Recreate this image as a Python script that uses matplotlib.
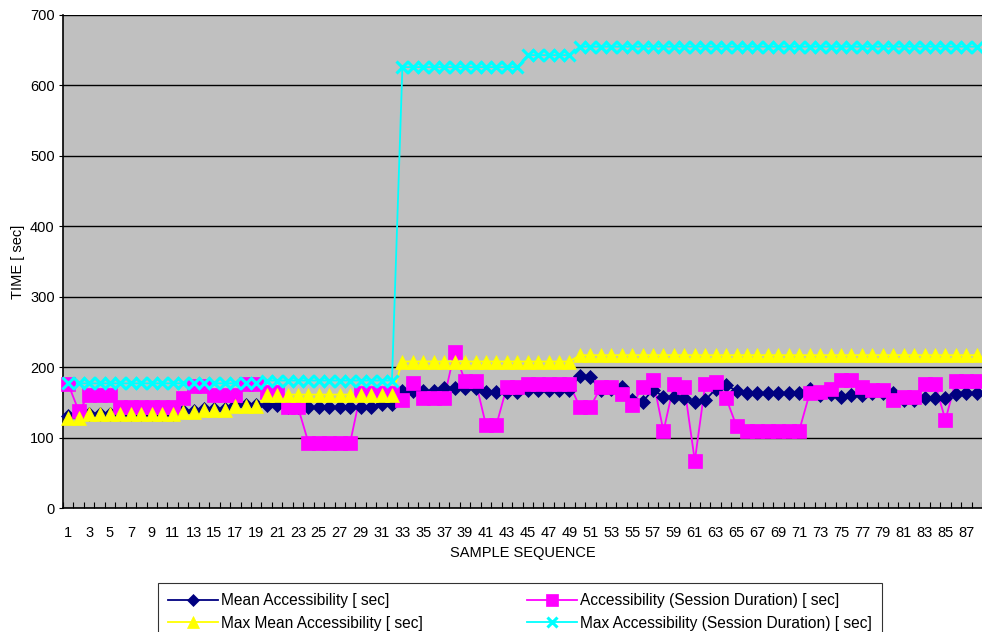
import matplotlib
matplotlib.use("Agg")
import matplotlib.pyplot as plt
from matplotlib.lines import Line2D
from matplotlib.ticker import FixedLocator, NullFormatter

plt.rcParams["font.family"] = ["Liberation Sans", "DejaVu Sans"]
plt.rcParams["font.size"] = 10.5

# Sample sequence 1..88
samples = list(range(1, 89))

mean_access = [
    130, 131, 134, 134, 134, 134, 134, 134, 134, 134,
    134, 138, 138, 141, 141, 141, 146, 146, 146, 146,
    146, 143, 143, 143, 143, 143, 143, 143, 143, 143,
    148, 148, 166, 166, 166, 166, 171, 171, 171, 171,
    165, 165, 165, 165, 168, 168, 168, 168, 168, 188,
    186, 167, 169, 172, 153, 151, 168, 158, 158, 156,
    151, 153, 169, 175, 166, 163, 163, 163, 163, 163,
    163, 169, 160, 162, 158, 160, 160, 163, 163, 163,
    153, 153, 156, 156, 156, 162, 163, 163,
]

session_access = [
    176, 138, 160, 160, 160, 143, 143, 143, 143, 143,
    143, 156, 173, 173, 160, 160, 160, 176, 176, 165,
    165, 143, 143, 93, 93, 93, 93, 93, 163, 163,
    163, 163, 153, 178, 156, 156, 156, 222, 180, 180,
    118, 118, 172, 172, 176, 176, 176, 176, 176, 143,
    143, 172, 172, 162, 146, 172, 182, 109, 176, 172,
    67, 176, 179, 156, 116, 110, 110, 110, 110, 110,
    110, 163, 165, 169, 182, 182, 172, 168, 168, 153,
    158, 158, 176, 176, 125, 181, 181, 181,
]

max_mean_access = [
    128, 128, 133, 133, 133, 133, 133, 133, 133, 133,
    133, 136, 136, 139, 139, 139, 145, 145, 145, 161,
    161, 161, 161, 161, 161, 161, 161, 161, 161, 161,
    161, 161, 208, 208, 208, 208, 208, 208, 208, 208,
    208, 208, 208, 208, 208, 208, 208, 208, 208, 217,
    217, 217, 217, 217, 217, 217, 217, 217, 217, 217,
    217, 217, 217, 217, 217, 217, 217, 217, 217, 217,
    217, 217, 217, 217, 217, 217, 217, 217, 217, 217,
    217, 217, 217, 217, 217, 217, 217, 217,
]

max_session_access = [
    177, 177, 177, 177, 177, 177, 177, 177, 177, 177,
    177, 177, 177, 177, 177, 177, 177, 177, 177, 181,
    181, 181, 181, 181, 181, 181, 181, 181, 181, 181,
    181, 181, 626, 626, 626, 626, 626, 626, 626, 626,
    626, 626, 626, 626, 643, 643, 643, 643, 643, 655,
    655, 655, 655, 655, 655, 655, 655, 655, 655, 655,
    655, 655, 655, 655, 655, 655, 655, 655, 655, 655,
    655, 655, 655, 655, 655, 655, 655, 655, 655, 655,
    655, 655, 655, 655, 655, 655, 655, 655,
]

x_tick_values = list(range(1, 89, 2))
x_tick_labels = [str(v) for v in x_tick_values]
y_ticks = [0, 100, 200, 300, 400, 500, 600, 700]

series = [
    ("Mean Accessibility [ sec]", mean_access,
     dict(color="#000080", marker="D", ms=7, mew=0.5)),
    ("Accessibility (Session Duration) [ sec]", session_access,
     dict(color="#FF00FF", marker="s", ms=10, mew=0.5)),
    ("Max Mean Accessibility [ sec]", max_mean_access,
     dict(color="#FFFF00", marker="^", ms=10, mew=0.5)),
    ("Max Accessibility (Session Duration) [ sec]", max_session_access,
     dict(color="#00FFFF", marker="x", ms=8.5, mew=2.2)),
]

fig = plt.figure(figsize=(9.82, 6.32), dpi=100)
fig.patch.set_facecolor("white")
ax = fig.add_axes([63 / 982, 1 - 508 / 632, 919 / 982, 493 / 632])
ax.set_facecolor("#C0C0C0")

# connecting lines underneath, then markers on top in series order
for i, (label, values, st) in enumerate(series):
    ax.plot(samples, values, "-", color=st["color"], lw=1.3, zorder=2)
for i, (label, values, st) in enumerate(series):
    ax.plot(samples, values, linestyle="none", marker=st["marker"],
            ms=st["ms"], mfc=st["color"], mec=st["color"], mew=st["mew"],
            zorder=3 + i, clip_on=False)

ax.set_xlim(0.5, 88.5)
ax.set_ylim(0, 700)

ax.set_yticks(y_ticks)
ax.yaxis.grid(True, color="black", lw=1.0)
ax.set_axisbelow(True)
ax.tick_params(axis="y", direction="out", length=3, width=0.8, pad=3)

ax.set_xticks(x_tick_values)
ax.set_xticklabels(x_tick_labels)
ax.tick_params(axis="x", which="major", length=0, pad=13)
ax.xaxis.set_minor_locator(FixedLocator([v + 0.5 for v in range(0, 89)]))
ax.xaxis.set_minor_formatter(NullFormatter())
ax.tick_params(axis="x", which="minor", direction="in", length=4, width=0.8)

for side in ["top", "right"]:
    ax.spines[side].set_visible(False)
ax.spines["left"].set_linewidth(1.2)
ax.spines["bottom"].set_linewidth(1.2)

ax.set_xlabel("SAMPLE SEQUENCE", labelpad=4)
ax.set_ylabel("TIME [ sec]")
ax.yaxis.set_label_coords((25 - 63) / 919, 0.5)

handles = []
labels = []
for label, values, st in series:
    handles.append(Line2D([], [], color=st["color"], lw=1.3, marker=st["marker"],
                          ms=st["ms"] * 0.9, mfc=st["color"], mec=st["color"],
                          mew=st["mew"]))
    labels.append(label)
order = [0, 2, 1, 3]
leg = fig.legend([handles[k] for k in order], [labels[k] for k in order],
                 loc="upper left", bbox_to_anchor=(158 / 982, 1 - 583 / 632),
                 ncol=2, frameon=True, fancybox=False, shadow=False,
                 borderaxespad=0, handlelength=3.2, handletextpad=0.2,
                 columnspacing=6.7, borderpad=0.65, labelspacing=0.5,
                 numpoints=1, prop={"size": 11.2})
leg.get_frame().set_edgecolor("black")
leg.get_frame().set_linewidth(0.8)

fig.savefig("out.png", dpi=100, facecolor="white")
